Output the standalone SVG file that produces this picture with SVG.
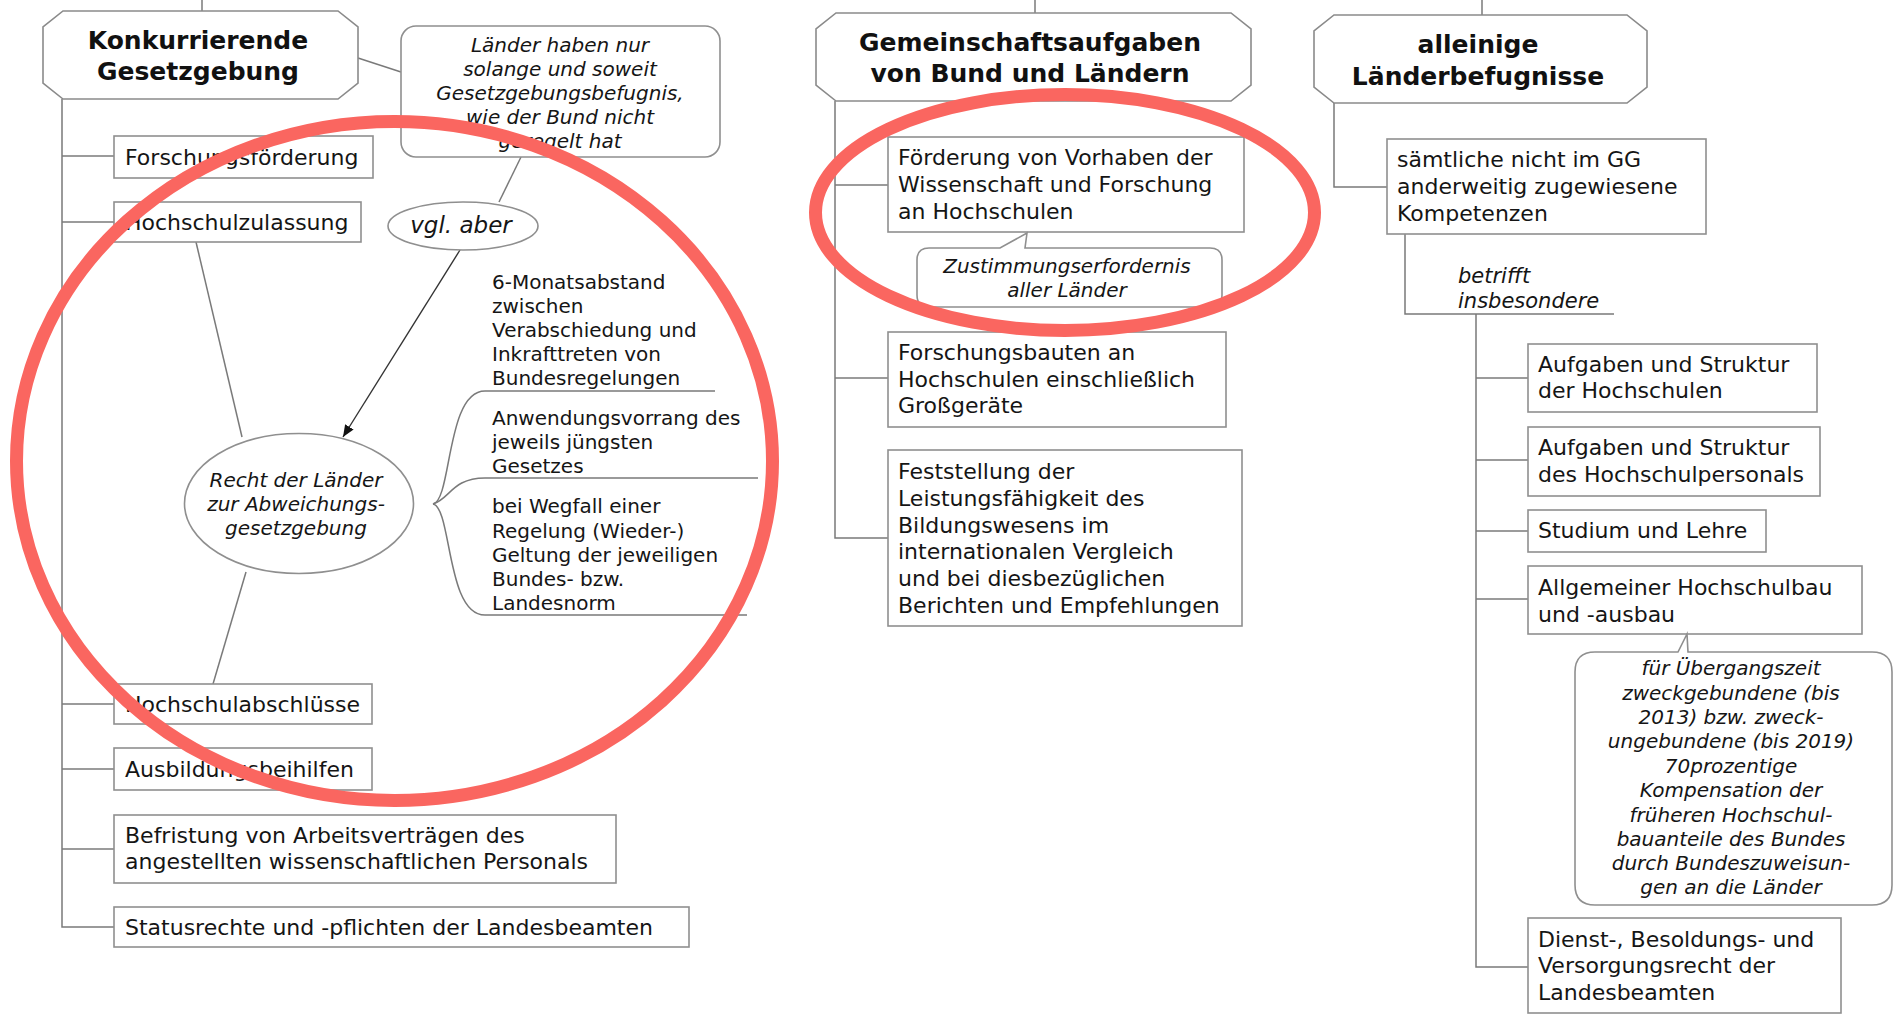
<svg xmlns="http://www.w3.org/2000/svg" width="1899" height="1017" viewBox="0 0 1899 1017">
<defs>
<style>
.box{fill:#fff;stroke:#8f8f8f;stroke-width:1.6}
.hdr{fill:#fff;stroke:#8a8a8a;stroke-width:1.6}
.ln{fill:none;stroke:#7a7a7a;stroke-width:1.5}
.ar{fill:none;stroke:#333;stroke-width:1.4}
.t{font-family:"DejaVu Sans","Liberation Sans",sans-serif;font-size:22px;fill:#151515}
.s{font-family:"DejaVu Sans","Liberation Sans",sans-serif;font-size:20px;fill:#151515}
.i{font-family:"DejaVu Sans","Liberation Sans",sans-serif;font-size:20px;font-style:italic;fill:#151515}
.h{font-family:"DejaVu Sans","Liberation Sans",sans-serif;font-size:25px;font-weight:bold;fill:#111;text-anchor:middle}
.c{text-anchor:middle}
.red{fill:none;stroke:#fa6660;stroke-width:13}
</style>
<marker id="arr" viewBox="0 0 12 10" refX="12" refY="5" markerWidth="12" markerHeight="10" markerUnits="userSpaceOnUse" orient="auto">
<path d="M0,0 L12,5 L0,10 Z" fill="#111"/>
</marker>
</defs>
<rect width="1899" height="1017" fill="#fff"/>

<g id="connectors">
<line class="ln" x1="202" y1="0" x2="202" y2="11"/>
<line class="ln" x1="1035" y1="0" x2="1035" y2="13"/>
<line class="ln" x1="1482" y1="0" x2="1482" y2="15"/>
<polyline class="ln" points="62,99 62,927 114,927"/>
<line class="ln" x1="62" y1="156" x2="114" y2="156"/>
<line class="ln" x1="62" y1="222" x2="114" y2="222"/>
<line class="ln" x1="62" y1="704" x2="114" y2="704"/>
<line class="ln" x1="62" y1="769" x2="114" y2="769"/>
<line class="ln" x1="62" y1="849" x2="114" y2="849"/>
<line class="ln" x1="358" y1="58" x2="401" y2="72"/>
<line class="ln" x1="521" y1="157" x2="499" y2="202"/>
<line class="ar" x1="460" y1="250" x2="343" y2="437" marker-end="url(#arr)"/>
<line class="ln" x1="196" y1="242" x2="242" y2="437"/>
<line class="ln" x1="246" y1="572" x2="213" y2="684"/>
<path class="ln" d="M433,504 C452,500 446,391 485,391 L715,391"/>
<path class="ln" d="M433,504 C450,499 452,478 485,478 L758,478"/>
<path class="ln" d="M433,504 C452,508 446,615 485,615 L747,615"/>
<polyline class="ln" points="835,101 835,538 888,538"/>
<line class="ln" x1="835" y1="185" x2="888" y2="185"/>
<line class="ln" x1="835" y1="378" x2="888" y2="378"/>
<polyline class="ln" points="1334,103 1334,187 1387,187"/>
<polyline class="ln" points="1405,234 1405,314 1614,314"/>
<polyline class="ln" points="1476,314 1476,967 1528,967"/>
<line class="ln" x1="1476" y1="378" x2="1528" y2="378"/>
<line class="ln" x1="1476" y1="460" x2="1528" y2="460"/>
<line class="ln" x1="1476" y1="531" x2="1528" y2="531"/>
<line class="ln" x1="1476" y1="599" x2="1528" y2="599"/>
</g>

<g id="konkurrierende">
<path class="hdr" d="M63,11 L338,11 L358,27 L358,83 L338,99 L63,99 L43,83 L43,27 Z"/>
<text class="h" x="198" y="49">Konkurrierende</text>
<text class="h" x="198" y="80">Gesetzgebung</text>
</g>
<g id="laender-callout">
<rect class="box" x="401" y="26" width="319" height="131" rx="15"/>
<text class="i c" x="560" y="52">Länder haben nur</text>
<text class="i c" x="560" y="76">solange und soweit</text>
<text class="i c" x="560" y="100">Gesetzgebungsbefugnis,</text>
<text class="i c" x="560" y="124">wie der Bund nicht</text>
<text class="i c" x="560" y="148">geregelt hat</text>
</g>
<g id="vgl-aber">
<ellipse class="box" cx="463" cy="226" rx="75" ry="24"/>
<text class="i c" x="461" y="233" style="font-size:23px">vgl. aber</text>
</g>
<g id="forschungsfoerderung">
<rect class="box" x="114" y="136" width="259" height="42"/>
<text class="t" x="125" y="165">Forschungsförderung</text>
</g>
<g id="hochschulzulassung">
<rect class="box" x="114" y="202" width="247" height="40"/>
<text class="t" x="125" y="230">Hochschulzulassung</text>
</g>
<g id="recht">
<ellipse class="box" cx="299" cy="503.5" rx="114.5" ry="70"/>
<text class="i c" x="296" y="487">Recht der Länder</text>
<text class="i c" x="296" y="511">zur Abweichungs-</text>
<text class="i c" x="296" y="535">gesetzgebung</text>
</g>
<g id="monatsabstand">
<text class="s" x="492" y="289">6-Monatsabstand</text>
<text class="s" x="492" y="313">zwischen</text>
<text class="s" x="492" y="337">Verabschiedung und</text>
<text class="s" x="492" y="361">Inkrafttreten von</text>
<text class="s" x="492" y="385">Bundesregelungen</text>
</g>
<g id="anwendungsvorrang">
<text class="s" x="492" y="425">Anwendungsvorrang des</text>
<text class="s" x="492" y="449">jeweils jüngsten</text>
<text class="s" x="492" y="473">Gesetzes</text>
</g>
<g id="wegfall">
<text class="s" x="492" y="513">bei Wegfall einer</text>
<text class="s" x="492" y="538">Regelung (Wieder-)</text>
<text class="s" x="492" y="562">Geltung der jeweiligen</text>
<text class="s" x="492" y="586">Bundes- bzw.</text>
<text class="s" x="492" y="610">Landesnorm</text>
</g>
<g id="hochschulabschluesse">
<rect class="box" x="114" y="684" width="258" height="40"/>
<text class="t" x="125" y="712">Hochschulabschlüsse</text>
</g>
<g id="ausbildungsbeihilfen">
<rect class="box" x="114" y="748" width="258" height="42"/>
<text class="t" x="125" y="777">Ausbildungsbeihilfen</text>
</g>
<g id="befristung">
<rect class="box" x="114" y="815" width="502" height="68"/>
<text class="t" x="125" y="843">Befristung von Arbeitsverträgen des</text>
<text class="t" x="125" y="869">angestellten wissenschaftlichen Personals</text>
</g>
<g id="statusrechte">
<rect class="box" x="114" y="907" width="575" height="40"/>
<text class="t" x="125" y="935">Statusrechte und -pflichten der Landesbeamten</text>
</g>

<g id="gemeinschaftsaufgaben">
<path class="hdr" d="M836,13 L1231,13 L1251,29 L1251,85 L1231,101 L836,101 L816,85 L816,29 Z"/>
<text class="h" x="1030" y="51">Gemeinschaftsaufgaben</text>
<text class="h" x="1030" y="82">von Bund und Ländern</text>
</g>
<g id="foerderung">
<rect class="box" x="888" y="137" width="356" height="95"/>
<text class="t" x="898" y="165">Förderung von Vorhaben der</text>
<text class="t" x="898" y="192">Wissenschaft und Forschung</text>
<text class="t" x="898" y="219">an Hochschulen</text>
</g>
<g id="zustimmung">
<path class="box" d="M929,248 L1000,248 L1027,233 L1025,248 L1210,248 Q1222,248 1222,260 L1222,295 Q1222,307 1210,307 L929,307 Q917,307 917,295 L917,260 Q917,248 929,248 Z"/>
<text class="i c" x="1067" y="273">Zustimmungserfordernis</text>
<text class="i c" x="1067" y="297">aller Länder</text>
</g>
<g id="forschungsbauten">
<rect class="box" x="888" y="332" width="338" height="95"/>
<text class="t" x="898" y="360">Forschungsbauten an</text>
<text class="t" x="898" y="387">Hochschulen einschließlich</text>
<text class="t" x="898" y="413">Großgeräte</text>
</g>
<g id="feststellung">
<rect class="box" x="888" y="450" width="354" height="176"/>
<text class="t" x="898" y="479">Feststellung der</text>
<text class="t" x="898" y="506">Leistungsfähigkeit des</text>
<text class="t" x="898" y="533">Bildungswesens im</text>
<text class="t" x="898" y="559">internationalen Vergleich</text>
<text class="t" x="898" y="586">und bei diesbezüglichen</text>
<text class="t" x="898" y="613">Berichten und Empfehlungen</text>
</g>

<g id="alleinige">
<path class="hdr" d="M1334,15 L1627,15 L1647,31 L1647,87 L1627,103 L1334,103 L1314,87 L1314,31 Z"/>
<text class="h" x="1478" y="53">alleinige</text>
<text class="h" x="1478" y="85">Länderbefugnisse</text>
</g>
<g id="saemtliche">
<rect class="box" x="1387" y="139" width="319" height="95"/>
<text class="t" x="1397" y="167">sämtliche nicht im GG</text>
<text class="t" x="1397" y="194">anderweitig zugewiesene</text>
<text class="t" x="1397" y="221">Kompetenzen</text>
</g>
<g id="betrifft">
<text class="i" x="1458" y="283" style="font-size:21px">betrifft</text>
<text class="i" x="1458" y="308" style="font-size:21px">insbesondere</text>
</g>
<g id="aufgaben-hochschulen">
<rect class="box" x="1528" y="344" width="289" height="68"/>
<text class="t" x="1538" y="372">Aufgaben und Struktur</text>
<text class="t" x="1538" y="398">der Hochschulen</text>
</g>
<g id="aufgaben-personal">
<rect class="box" x="1528" y="427" width="292" height="69"/>
<text class="t" x="1538" y="455">Aufgaben und Struktur</text>
<text class="t" x="1538" y="482">des Hochschulpersonals</text>
</g>
<g id="studium">
<rect class="box" x="1528" y="510" width="238" height="42"/>
<text class="t" x="1538" y="538">Studium und Lehre</text>
</g>
<g id="hochschulbau">
<rect class="box" x="1528" y="566" width="334" height="68"/>
<text class="t" x="1538" y="595">Allgemeiner Hochschulbau</text>
<text class="t" x="1538" y="622">und -ausbau</text>
</g>
<g id="uebergangszeit">
<path class="box" d="M1595,652 L1678,652 L1687,634 L1688,652 L1872,652 Q1892,652 1892,672 L1892,885 Q1892,905 1872,905 L1595,905 Q1575,905 1575,885 L1575,672 Q1575,652 1595,652 Z"/>
<text class="i c" x="1731" y="675">für Übergangszeit</text>
<text class="i c" x="1731" y="700">zweckgebundene (bis</text>
<text class="i c" x="1731" y="724">2013) bzw. zweck-</text>
<text class="i c" x="1731" y="748">ungebundene (bis 2019)</text>
<text class="i c" x="1731" y="773">70prozentige</text>
<text class="i c" x="1731" y="797">Kompensation der</text>
<text class="i c" x="1731" y="822">früheren Hochschul-</text>
<text class="i c" x="1731" y="846">bauanteile des Bundes</text>
<text class="i c" x="1731" y="870">durch Bundeszuweisun-</text>
<text class="i c" x="1731" y="894">gen an die Länder</text>
</g>
<g id="dienstrecht">
<rect class="box" x="1528" y="918" width="313" height="95"/>
<text class="t" x="1538" y="947">Dienst-, Besoldungs- und</text>
<text class="t" x="1538" y="973">Versorgungsrecht der</text>
<text class="t" x="1538" y="1000">Landesbeamten</text>
</g>

<g id="highlights">
<ellipse class="red" cx="394.5" cy="461" rx="378" ry="339.5"/>
<ellipse class="red" cx="1065" cy="212.5" rx="249.5" ry="118"/>
</g>
</svg>
